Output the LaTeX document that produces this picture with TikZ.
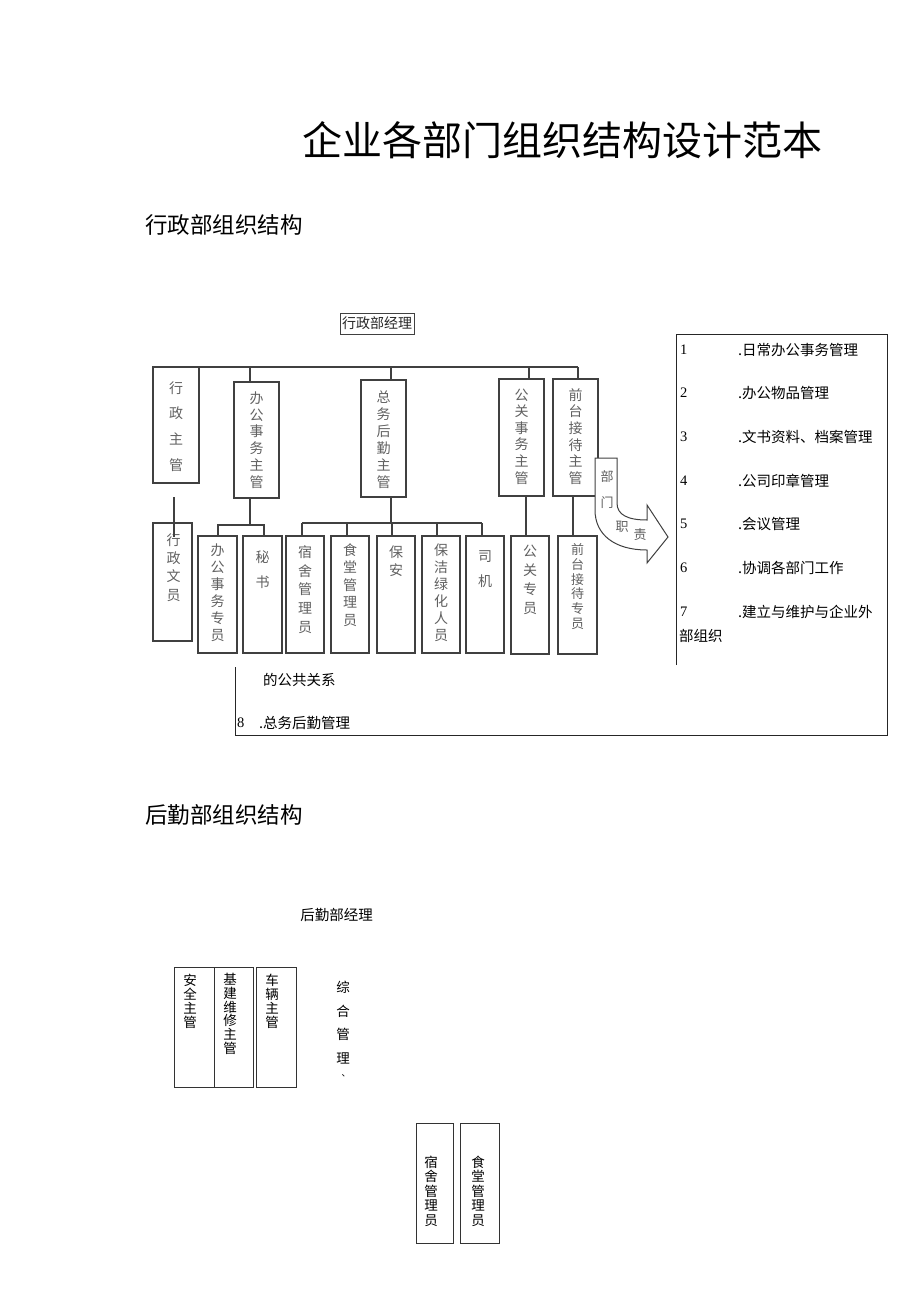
\documentclass[tikz,border=0pt]{standalone}
\usepackage{fontspec}
\newfontfamily\cjk{Noto Sans CJK SC}
\newfontfamily\ser{Liberation Serif}
\definecolor{ln}{HTML}{404040}
\definecolor{tg}{HTML}{606060}
\begin{document}
\begin{tikzpicture}[x=1pt,y=-1pt,
  every node/.style={inner sep=0pt,outer sep=0pt},
  box/.style={draw=ln, line width=1.3pt},
  wire/.style={draw=ln, line width=1.3pt},
  vt/.style 2 args={font=\cjk\fontsize{#1}{#2}\selectfont, align=center, text=tg},
  vtb/.style 2 args={font=\cjk\fontsize{#1}{#2}\selectfont, align=center, text=black},
  thinbox/.style={draw=black!80, line width=0.8pt},
  item/.style={font=\cjk\fontsize{14.5}{17}\selectfont, anchor=west},
  num/.style={font=\ser\fontsize{14.5}{17}\selectfont, anchor=west},
  head/.style={font=\cjk\fontsize{22.5}{26}\selectfont, anchor=west}
]
\useasboundingbox (0,0) rectangle (920,1301);

% title and headings
\node[font=\cjk\fontsize{40}{44}\selectfont] (title) at (562,140) {企业各部门组织结构设计范本};
\node[head] (h1) at (145,225) {行政部组织结构};
\node[head] (h2) at (145,815) {后勤部组织结构};

% ---------- top chart ----------
\node[draw=ln, line width=0.8pt, font=\cjk\fontsize{14}{16}\selectfont, text=black!85, minimum width=74pt, minimum height=21pt] (mgr) at (377,323.5) {行政部经理};

% level 1 boxes
\node[box, minimum width=46pt, minimum height=116pt] (xzzg) at (176,425) {};
\node[box, minimum width=45pt, minimum height=116pt] (bgzg) at (256.5,440) {};
\node[box, minimum width=45pt, minimum height=117pt] (zwzg) at (383.5,438.5) {};
\node[box, minimum width=45pt, minimum height=117pt] (ggzg) at (521.5,437.5) {};
\node[box, minimum width=45pt, minimum height=117pt] (qtzg) at (575.5,437.5) {};

% level 2 boxes
\node[box, minimum width=39pt, minimum height=118pt] (xzwy) at (172.5,582) {};
\node[box, minimum width=39pt, minimum height=117pt] (bgzy) at (217.5,594.5) {};
\node[box, minimum width=39pt, minimum height=117pt] (ms) at (262.5,594.5) {};
\node[box, minimum width=38pt, minimum height=117pt] (ssgl) at (305,594.5) {};
\node[box, minimum width=38pt, minimum height=117pt] (stgl) at (350,594.5) {};
\node[box, minimum width=38pt, minimum height=117pt] (ba) at (396,594.5) {};
\node[box, minimum width=38pt, minimum height=117pt] (bjlh) at (441,594.5) {};
\node[box, minimum width=38pt, minimum height=117pt] (sj) at (485,594.5) {};
\node[box, minimum width=38pt, minimum height=118pt] (ggzy) at (530,595) {};
\node[box, minimum width=39pt, minimum height=118pt] (qtzy) at (577.5,595) {};

% texts level 1
\node[vt={14}{25.7}] (txzzg) at (176,426.5) {行\\政\\主\\管};
\node[vt={14}{16.8}] (tbgzg) at (256.5,440) {办\\公\\事\\务\\主\\管};
\node[vt={14}{17}] (tzwzg) at (383.5,439.5) {总\\务\\后\\勤\\主\\管};
\node[vt={14}{16.6}] (tggzg) at (521.5,436.5) {公\\关\\事\\务\\主\\管};
\node[vt={14}{16.6}] (tqtzg) at (575.5,436.5) {前\\台\\接\\待\\主\\管};

% texts level 2
\node[vt={14}{18.3}] (txzwy) at (173.5,567.5) {行\\政\\文\\员};
\node[vt={14}{17}] (tbgzy) at (217.5,592.5) {办\\公\\事\\务\\专\\员};
\node[vt={14}{25}] (tms) at (262.5,569.5) {秘\\书};
\node[vt={14}{18.75}] (tssgl) at (305,589.5) {宿\\舍\\管\\理\\员};
\node[vt={14}{17.5}] (tstgl) at (350,585) {食\\堂\\管\\理\\员};
\node[vt={14}{18.3}] (tba) at (396,561) {保\\安};
\node[vt={14}{17}] (tbjlh) at (441,592.5) {保\\洁\\绿\\化\\人\\员};
\node[vt={14}{25}] (tsj) at (485,569) {司\\机};
\node[vt={14}{18.9}] (tggzy) at (530,580) {公\\关\\专\\员};
\node[vt={13}{14.8}] (tqtzy) at (577.5,586.5) {前\\台\\接\\待\\专\\员};

% bus and drops
\coordinate (busL) at (153,367);
\coordinate (busR) at (578,367);
\draw[wire] (busL) -- (busR);
\coordinate (d1) at (250,367);
\coordinate (d2) at (391,367);
\coordinate (d3) at (529,367);
\draw[wire] (d1) -- (d1 |- bgzg.north);
\draw[wire] (d2) -- (d2 |- zwzg.north);
\draw[wire] (d3) -- (d3 |- ggzg.north);
\draw[wire] (busR) -- (busR |- qtzg.north);

% level 2 connectors
\coordinate (e0) at (174,497);
\coordinate (e1) at (174,537);
\draw[wire] (e0) -- (e1);

\coordinate (b1) at (250,525);
\coordinate (b1L) at (218,525);
\coordinate (b1R) at (264,525);
\draw[wire] (b1 |- bgzg.south) -- (b1);
\draw[wire] (b1L |- bgzy.north) -- (b1L) -- (b1R) -- (b1R |- ms.north);

\coordinate (z) at (391,523);
\coordinate (zL) at (302,523);
\coordinate (zR) at (482,523);
\draw[wire] (z |- zwzg.south) -- (z);
\draw[wire] (zL) -- (zR);
\foreach \xx/\nn in {302/ssgl,347/stgl,392/ba,437/bjlh,482/sj}{
  \coordinate (tp) at (\xx,523);
  \draw[wire] (tp) -- (tp |- \nn.north);
}
\coordinate (g) at (526,500);
\draw[wire] (g |- ggzg.south) -- (g |- ggzy.north);
\coordinate (q) at (573,500);
\draw[wire] (q |- qtzg.south) -- (q |- qtzy.north);

% arrow
\draw[draw=ln, line width=1pt, fill=white] (595,458) -- (617,458) -- (617,503)
  .. controls (617,515) and (628,520) .. (647,520) -- (647,505) -- (668,537)
  -- (647,563) -- (647,550) .. controls (615,550) and (595,535) .. (595,510) -- cycle;
\node[font=\cjk\fontsize{13}{14}\selectfont, text=tg] (a1) at (607,477) {部};
\node[font=\cjk\fontsize{13}{14}\selectfont, text=tg] (a2) at (607,503) {门};
\node[font=\cjk\fontsize{13}{14}\selectfont, text=tg] (a3) at (622,527) {职};
\node[font=\cjk\fontsize{13}{14}\selectfont, text=tg] (a4) at (640,535) {责};

% responsibilities frame
\draw[draw=black!85, line width=0.9pt] (676,665) -- (676,334) -- (887,334) -- (887,735) -- (235,735) -- (235,667);
\node[num] (n1) at (680,350) {1};
\node[item] (i1) at (738,350) {.日常办公事务管理};
\node[num] (n2) at (680,393) {2};
\node[item] (i2) at (738,393) {.办公物品管理};
\node[num] (n3) at (680,437) {3};
\node[item] (i3) at (738,437) {.文书资料、档案管理};
\node[num] (n4) at (680,481) {4};
\node[item] (i4) at (738,481) {.公司印章管理};
\node[num] (n5) at (680,524) {5};
\node[item] (i5) at (738,524) {.会议管理};
\node[num] (n6) at (680,568) {6};
\node[item] (i6) at (738,568) {.协调各部门工作};
\node[num] (n7) at (680,612) {7};
\node[item] (i7) at (738,612) {.建立与维护与企业外};
\node[item] (i7b) at (679,636) {部组织};
\node[item] (i7c) at (263,680) {的公共关系};
\node[num] (n8) at (237,723) {8};
\node[item] (i8) at (259,723) {.总务后勤管理};

% ---------- bottom chart ----------
\node[font=\cjk\fontsize{14.5}{17}\selectfont] (mgr2) at (336.5,915) {后勤部经理};

\node[thinbox, minimum width=40pt, minimum height=120pt] (aqzg) at (194,1027) {};
\node[thinbox, minimum width=39pt, minimum height=120pt] (jjwx) at (233.5,1027) {};
\node[thinbox, minimum width=40pt, minimum height=120pt] (clzg) at (276,1027) {};
\node[vtb={13.5}{14}] (taqzg) at (190,1001) {安\\全\\主\\管};
\node[vtb={13.5}{13.7}] (tjjwx) at (230,1014) {基\\建\\维\\修\\主\\管};
\node[vtb={13.5}{14}] (tclzg) at (272,1001) {车\\辆\\主\\管};

\node[vtb={13.5}{23.7}] (tzhgl) at (343,1022.5) {综\\合\\管\\理};
\node[font=\cjk\fontsize{9}{10}\selectfont] (dot) at (346,1076) {、};

\node[thinbox, minimum width=37pt, minimum height=120pt] (ss2) at (434.5,1183) {};
\node[thinbox, minimum width=39pt, minimum height=120pt] (st2) at (479.5,1183) {};
\node[vtb={13.5}{14.5}] (tss2) at (431,1191) {宿\\舍\\管\\理\\员};
\node[vtb={13.5}{14.5}] (tst2) at (478,1191) {食\\堂\\管\\理\\员};
\end{tikzpicture}
\end{document}
